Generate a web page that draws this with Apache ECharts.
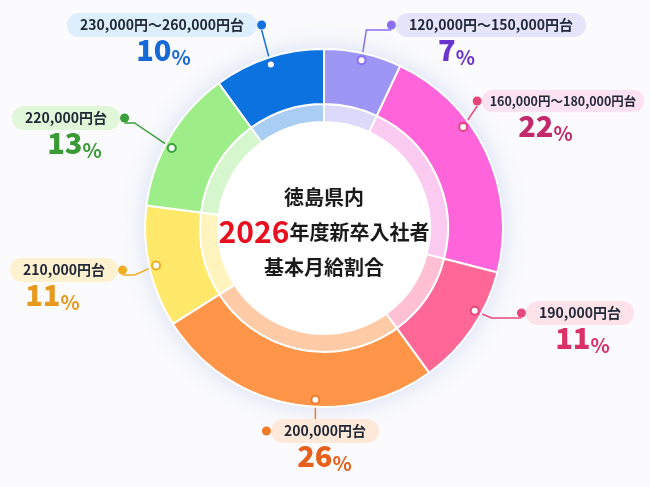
<!DOCTYPE html>
<html>
<head>
<meta charset="utf-8">
<script src="https://cdn.jsdelivr.net/npm/echarts@6/dist/echarts.min.js"></script>
<style>
html, body { margin: 0; padding: 0; background: #fbfbfd; }
#chart { width: 650px; height: 487px; }
</style>
</head>
<body>
<div id="chart"></div>
<script>
// 給与帯と割合(%)
var categories = ['120,000円〜150,000円台', '160,000円〜180,000円台', '190,000円台', '200,000円台', '210,000円台', '220,000円台', '230,000円〜260,000円台'];
var shares = [7, 22, 11, 26, 11, 13, 10];

// 色
var ringColors = ['#9d96f4', '#ff64da', '#ff6896', '#ff9548', '#ffe86a', '#9dee88', '#0b72df'];
var bandColors = ['#dcd9fb', '#fbcaf1', '#ffc0d4', '#ffcaa6', '#fff4bd', '#d6f6cd', '#a9cdf3'];
var boxColors = ['#e6e4fb', '#fde2f3', '#fde2ea', '#fde8da', '#fdf1cf', '#e0f7d9', '#ddeefc'];
var pctColors = ['#6a35cf', '#c22a6c', '#da3168', '#e6601c', '#e69a1e', '#3a9a36', '#1769d6'];
var dotColors = ['#8a6ff0', '#e6457a', '#e8497c', '#f07a2a', '#f0ae22', '#3a9e3a', '#1570e0'];

// ラベル配置
var boxPos = [[491, 17], [563, 93], [580, 305], [325, 423], [64, 262], [66, 110], [162, 17]];
var boxFont = [14, 12.5, 14, 14, 14, 14, 14];
var boxPad = [13, 8, 13, 13, 13, 13, 13];
var dotSide = ['left', 'left', 'left', 'left', 'right', 'right', 'right'];
var pctShift = [-30, -13, 7, 4, -16, 4, -3];
var elbow = [-25, 0, -30, null, 12, 10, 0];
var anchorShift = [0, -3, -1.5, -2.2, 0, -0.8, 0];

var FONT = '"Noto Sans CJK JP", "Noto Sans", sans-serif';
var CX = 324, CY = 228, R = 179, R_IN = 124, R_BAND = 106, R_ANCHOR = 172;

var total = shares.reduce(function (a, b) { return a + b; }, 0);
function anchorAt(i) {
    var s = 0;
    for (var k = 0; k < i; k++) s += shares[k];
    return s + shares[i] / 2 + anchorShift[i];
}
function anchorOf(i) {
    var t = anchorAt(i) / total * 2 * Math.PI;
    return [CX + R_ANCHOR * Math.sin(t), CY - R_ANCHOR * Math.cos(t)];
}

function itemLabel(i) {
    var left = dotSide[i] === 'left';
    var line1 = left ? '{dot|}{box|' + categories[i] + '}' : '{box|' + categories[i] + '}{dot|}';
    var s = pctShift[i];
    var line2 = (s > 0 ? '{sp|}' : '') + '{num|' + shares[i] + '}{pc|%}' + (s < 0 ? '{sp|}' : '');
    return {
        show: true,
        formatter: line1 + '\n' + line2,
        rich: {
            dot: {width: 9, height: 9, borderRadius: 5, backgroundColor: dotColors[i], verticalAlign: 'middle'},
            box: {fontSize: boxFont[i], fontWeight: 'bold', color: '#222a38', backgroundColor: boxColors[i], borderRadius: 13, padding: [5, boxPad[i]], lineHeight: 16, fontFamily: FONT},
            num: {fontSize: 29, fontWeight: 900, color: pctColors[i], lineHeight: 34, fontFamily: FONT},
            pc: {fontSize: 20, fontWeight: 'bold', color: pctColors[i], lineHeight: 28, verticalAlign: 'bottom', fontFamily: FONT},
            sp: {width: Math.abs(s) * 2, height: 1}
        }
    };
}

var ringData = categories.map(function (c, i) {
    return {
        name: c,
        value: shares[i],
        itemStyle: {color: ringColors[i]},
        label: itemLabel(i),
        labelLine: {lineStyle: {color: dotColors[i], width: 1.5}}
    };
});
var bandData = categories.map(function (c, i) {
    return {name: c, value: shares[i], itemStyle: {color: bandColors[i]}};
});
var anchorData = categories.map(function (c, i) {
    return {value: [R_ANCHOR, anchorAt(i)], itemStyle: {borderColor: dotColors[i]}};
});

var myChart = echarts.init(document.getElementById('chart'));

myChart.setOption({
    animation: false,
    backgroundColor: '#fbfbfd',
    polar: {center: [CX, CY], radius: R},
    angleAxis: {type: 'value', min: 0, max: total, startAngle: 90, clockwise: true, show: false},
    radiusAxis: {type: 'value', min: 0, max: R, show: false},
    graphic: [
        {
            type: 'circle', z: 0, silent: true,
            shape: {cx: CX, cy: CY, r: R},
            style: {fill: '#ffffff', shadowBlur: 26, shadowColor: 'rgba(70,110,200,0.22)'}
        },
        {
            type: 'text', z: 100, silent: true,
            x: CX, y: 232,
            style: {
                text: '{a|徳島県内}\n{r|2026}{a|年度新卒入社者}\n{a|基本月給割合}',
                align: 'center',
                verticalAlign: 'middle',
                rich: {
                    a: {fontSize: 20, fontWeight: 'bold', fill: '#1a1a1a', lineHeight: 35, fontFamily: FONT},
                    r: {fontSize: 30, fontWeight: 'bold', fill: '#e8101e', lineHeight: 35, fontFamily: FONT}
                }
            }
        }
    ],
    series: [
        {
            type: 'pie',
            silent: true,
            center: [CX, CY],
            radius: [R_BAND, R_IN],
            startAngle: 90,
            clockwise: true,
            itemStyle: {borderColor: '#ffffff', borderWidth: 2},
            label: {show: false},
            labelLine: {show: false},
            data: bandData
        },
        {
            type: 'pie',
            silent: true,
            center: [CX, CY],
            radius: [R_IN, R],
            startAngle: 90,
            clockwise: true,
            avoidLabelOverlap: false,
            itemStyle: {borderColor: '#ffffff', borderWidth: 2},
            label: {position: 'outside'},
            labelLine: {show: true, smooth: false},
            labelLayout: function (p) {
                var i = p.dataIndex;
                var w = p.labelRect.width;
                var left = dotSide[i] === 'left';
                var bx = boxPos[i][0] + (left ? -4.5 : 4.5);
                var top = boxPos[i][1];
                var a = anchorOf(i);
                var pts;
                if (elbow[i] === null) {
                    pts = [a, [a[0], top]];
                } else {
                    var dx = left ? bx - w / 2 + 4.5 : bx + w / 2 - 4.5;
                    var dy = top + 13;
                    pts = [a, [dx + elbow[i], dy], [dx, dy]];
                }
                // 始点を丸印の縁まで寄せる
                var nx = pts[1][0] - a[0], ny = pts[1][1] - a[1];
                var len = Math.sqrt(nx * nx + ny * ny) || 1;
                pts[0] = [a[0] + nx / len * 4, a[1] + ny / len * 4];
                return {x: bx, y: top, align: 'center', verticalAlign: 'top', labelLinePoints: pts};
            },
            data: ringData
        },
        {
            type: 'scatter',
            coordinateSystem: 'polar',
            silent: true,
            symbol: 'circle',
            symbolSize: 8,
            itemStyle: {color: '#ffffff', borderWidth: 2, opacity: 1},
            data: anchorData
        }
    ]
});
</script>
</body>
</html>
